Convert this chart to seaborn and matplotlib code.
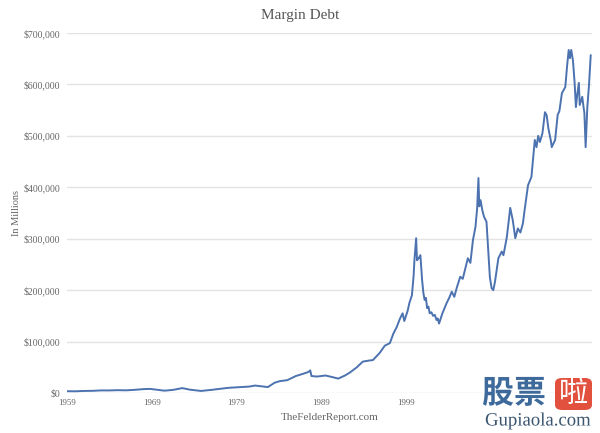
import matplotlib
matplotlib.use("Agg")
import matplotlib.pyplot as plt
import matplotlib.patheffects as pe
from matplotlib.patches import FancyBboxPatch
import seaborn as sns
import pandas as pd

# ---- data (values in $ millions) ----
years = [
    1959.0, 1960.0, 1961.0, 1962.0, 1963.0, 1964.0, 1965.0, 1966.0, 1967.0, 1968.0,
    1968.8, 1969.5, 1970.5, 1971.5, 1972.6, 1973.5, 1974.8, 1976.0, 1977.0, 1978.0,
    1979.0, 1979.8, 1980.5, 1981.2, 1982.0, 1982.7, 1983.5, 1984.1, 1985.0, 1986.0,
    1986.8, 1987.5, 1987.7, 1987.85, 1988.5, 1989.5, 1990.3, 1991.0, 1991.8, 1992.4,
    1993.2, 1993.9, 1994.6, 1995.1, 1995.9, 1996.5, 1997.1, 1997.5, 1997.9, 1998.3,
    1998.6, 1998.8, 1999.2, 1999.4, 1999.7, 1999.9, 2000.0, 2000.2, 2000.3, 2000.5,
    2000.7, 2000.9, 2001.05, 2001.2, 2001.35, 2001.5, 2001.65, 2001.8, 2002.0, 2002.2,
    2002.4, 2002.6, 2002.75, 2002.9, 2003.3, 2003.8,
    2004.1, 2004.4, 2004.7, 2005.0, 2005.4, 2005.7, 2006.0, 2006.3, 2006.6, 2006.9,
    2007.2, 2007.4, 2007.55, 2007.65, 2007.8, 2008.0, 2008.2, 2008.5, 2008.7, 2008.9,
    2009.1, 2009.3, 2009.5, 2009.9, 2010.3, 2010.5, 2010.9, 2011.3, 2011.6, 2011.9,
    2012.2, 2012.5, 2012.8, 2013.0, 2013.4, 2013.8, 2014.2, 2014.4, 2014.6, 2014.8,
    2015.1, 2015.4, 2015.6, 2015.8, 2016.1, 2016.2, 2016.6, 2016.9, 2017.1, 2017.4,
    2017.8, 2018.0, 2018.2, 2018.35, 2018.5, 2018.7, 2018.9, 2019.05, 2019.2, 2019.4,
    2019.5, 2019.8, 2019.95, 2020.05, 2020.2, 2020.4, 2020.6, 2020.8,
]
margin_debt = [
    3500, 3300, 4000, 4200, 5000, 5000, 5500, 5200, 6200, 7500,
    8000, 6500, 4500, 6000, 9500, 6500, 4000, 6000, 8000, 10000,
    11000, 12000, 12500, 14500, 13000, 11500, 20000, 23000, 25000, 33000,
    37000, 41000, 44000, 33000, 32000, 34000, 31000, 28000, 34000, 40000,
    50000, 61000, 63000, 64000, 78000, 92000, 97000, 115000, 128000, 145000,
    155000, 140000, 160000, 175000, 190000, 228000, 259000, 301000, 258000, 262000,
    268000, 220000, 195000, 181000, 185000, 165000, 168000, 155000, 157000, 150000,
    152000, 142000, 145000, 135000, 155000, 175000,
    185000, 197000, 187000, 205000, 226000, 222000, 242000, 262000, 253000, 297000,
    323000, 360000, 418000, 363000, 375000, 356000, 343000, 333000, 278000, 225000,
    204000, 200000, 216000, 262000, 275000, 268000, 303000, 360000, 336000, 301000,
    320000, 312000, 330000, 356000, 404000, 420000, 492000, 478000, 500000, 488000,
    505000, 546000, 540000, 515000, 490000, 478000, 492000, 541000, 548000, 583000,
    595000, 634000, 667000, 651000, 667000, 647000, 603000, 556000, 579000, 603000,
    560000, 576000, 556000, 545000, 478000, 556000, 600000, 657000,
]
y_ticks = [0, 100000, 200000, 300000, 400000, 500000, 600000, 700000]
y_tick_labels = ["$0", "$100,000", "$200,000", "$300,000", "$400,000",
                 "$500,000", "$600,000", "$700,000"]
x_ticks = [1959, 1969, 1979, 1989, 1999]
x_tick_labels = ["1959", "1969", "1979", "1989", "1999"]

df = pd.DataFrame({"year": years, "debt": margin_debt})

sns.set_theme(style="white")
plt.rcParams["font.family"] = ["Liberation Serif", "DejaVu Serif"]

fig = plt.figure(figsize=(6.0, 4.33), dpi=100)
ax = fig.add_axes([67 / 600, 1 - 393 / 433, 525 / 600, 360 / 433])

sns.lineplot(data=df, x="year", y="debt", ax=ax, color="#4c72b0",
             linewidth=1.4, zorder=3)

ax.set_xlim(1959, 2020.95)
ax.set_ylim(0, 700000)
ax.set_yticks(y_ticks)
ax.set_yticklabels(y_tick_labels)
ax.set_xticks(x_ticks)
ax.set_xticklabels(x_tick_labels)
ax.grid(axis="y", color="#e3e3e3", linewidth=1.0, zorder=0)
ax.grid(axis="x", visible=False)
for s in ax.spines.values():
    s.set_visible(False)
ax.tick_params(axis="y", length=0, pad=5, labelsize=7, labelcolor="#666666")
ax.tick_params(axis="x", length=0, pad=4, labelsize=6.5, labelcolor="#666666")

ax.set_ylabel("In Millions", fontsize=7.5, color="#666666")
ax.yaxis.set_label_coords(-0.088, 0.5)
ax.set_xlabel("TheFelderReport.com", fontsize=8, color="#666666", labelpad=5)
fig.text(0.5, 1 - 15 / 433, "Margin Debt", ha="center", va="center",
         fontsize=11, color="#555555")

# watermark
fig.text(514 / 600, 1 - 394 / 433, "股票", ha="center", va="center",
         fontsize=23, fontweight="bold", color="#3e6a9b",
         family=["Noto Sans CJK SC", "DejaVu Sans"],
         path_effects=[pe.withStroke(linewidth=2, foreground="white")])
box = FancyBboxPatch((555 / 600, 1 - 410 / 433), 37 / 600, 32 / 433,
                     boxstyle="round,pad=0,rounding_size=0.012",
                     transform=fig.transFigure, facecolor="#e2513e",
                     edgecolor="none")
fig.patches.append(box)
fig.text(573.5 / 600, 1 - 394 / 433, "啦", ha="center", va="center",
         fontsize=21, color="white", family=["Noto Sans CJK SC", "DejaVu Sans"])
fig.text(538 / 600, 1 - 421 / 433, "Gupiaola.com", ha="center", va="center",
         fontsize=13.5, color="#3b5670",
         path_effects=[pe.withStroke(linewidth=2, foreground="white")])

fig.savefig("out.png", dpi=100)
